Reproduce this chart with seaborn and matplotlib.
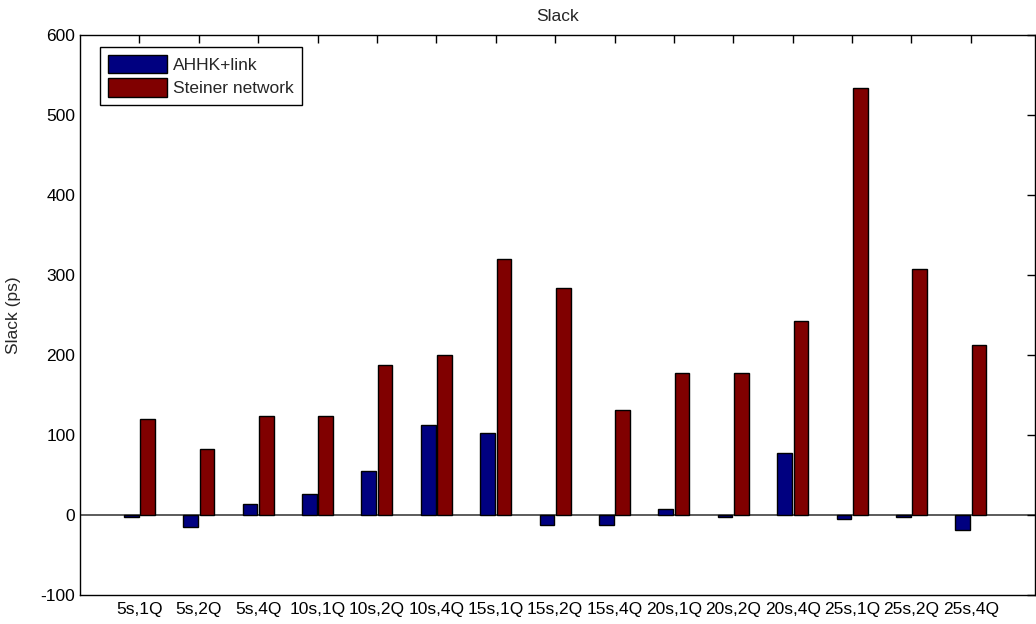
import pandas as pd
import matplotlib
matplotlib.use('Agg')
import matplotlib.pyplot as plt
import seaborn as sns

# 数据
categories = ['5s,1Q', '5s,2Q', '5s,4Q', '10s,1Q', '10s,2Q', '10s,4Q', '15s,1Q', '15s,2Q',
              '15s,4Q', '20s,1Q', '20s,2Q', '20s,4Q', '25s,1Q', '25s,2Q', '25s,4Q']
ahhk_link = [-3, -15, 14, 26, 55, 112, 102, -13, -12, 7, -3, 77, -5, -2, -19]
steiner = [120, 82, 124, 124, 188, 200, 320, 284, 131, 178, 178, 242, 534, 308, 212]
series_names = ['AHHK+link', 'Steiner network']

df = pd.DataFrame({
    'Config': categories * 2,
    'Slack': ahhk_link + steiner,
    'Method': [series_names[0]] * len(categories) + [series_names[1]] * len(categories),
})

sns.set_style('white')
plt.rcParams['font.family'] = ['Liberation Sans', 'DejaVu Sans']
plt.rcParams['axes.unicode_minus'] = False

fig = plt.figure(figsize=(10.36, 6.24), dpi=100)
ax = fig.add_axes([80 / 1036, 29 / 624, 955 / 1036, 560 / 624])

sns.barplot(data=df, x='Config', y='Slack', hue='Method', order=categories,
            hue_order=series_names, palette=['#000080', '#800000'],
            width=0.55, gap=0.1, edgecolor='black', linewidth=1,
            saturation=1, ax=ax)

ax.axhline(0, color='#404040', lw=1.2, zorder=0.5)
ax.set_xlim(-1, 15.08)
ax.set_ylim(-100, 600)
ax.set_yticks(range(-100, 601, 100))
ax.set_title('Slack', fontsize=12.5, pad=10)
ax.set_ylabel('Slack (ps)', fontsize=12.5, labelpad=14)
ax.set_xlabel('')
ax.tick_params(axis='both', direction='in', length=6, width=1, labelsize=12.5,
               top=True, right=True, colors='black')
ax.tick_params(axis='x', pad=5)
for s in ax.spines.values():
    s.set_color('black')
    s.set_linewidth(1)

ax.legend(loc='upper left', bbox_to_anchor=(0.021, 0.979), borderaxespad=0,
          fontsize=12.5, frameon=True, fancybox=False, edgecolor='black',
          framealpha=1, handlelength=3.4, handleheight=1.3, borderpad=0.45,
          labelspacing=0.25, handletextpad=0.35)

fig.savefig('out.png', dpi=100)
